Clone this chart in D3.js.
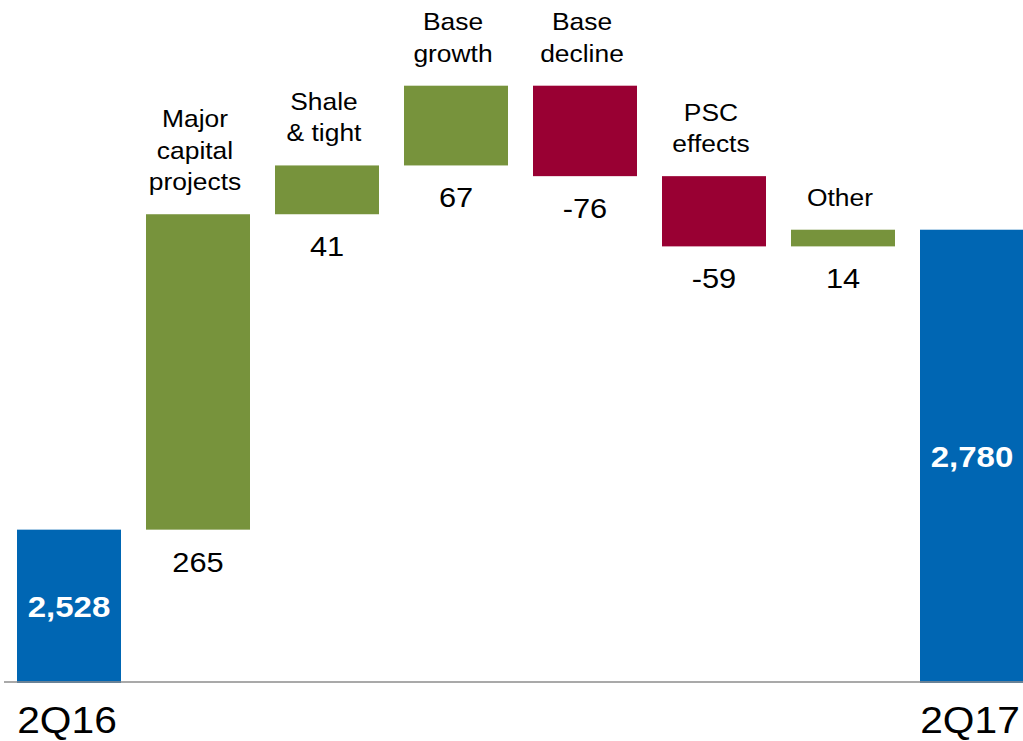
<!DOCTYPE html>
<html>
<head>
<meta charset="utf-8">
<script src="https://cdn.jsdelivr.net/npm/d3@7"></script>
<style>
  html, body { margin: 0; padding: 0; background: #fff; }
  svg { display: block; font-family: "Liberation Sans", Arial, sans-serif; }
</style>
</head>
<body>
<div id="chart"></div>
<script>
// Chart data.
const categories = ["2Q16", "Major capital projects", "Shale & tight", "Base growth", "Base decline", "PSC effects", "Other", "2Q17"];
const labelLines = [[], ["Major", "capital", "projects"], ["Shale", "& tight"], ["Base", "growth"], ["Base", "decline"], ["PSC", "effects"], ["Other"], []];
const values = [2528, 265, 41, 67, -76, -59, 14, 2780];
const isTotal = [true, false, false, false, false, false, false, true];

const width = 1023;
const height = 741;
const baseY = 682;
const stretch = 1.1; // the reference text is a little wide

const colors = { total: "#0066b3", up: "#77933c", down: "#990033" };

/**
 * Running positions of the waterfall.
 */
let running = 0;
const bars = categories.map((c, i) => {
  let start, end;
  if (isTotal[i]) {
    start = 2400;
    end = values[i];
    running = values[i];
  } else {
    start = running;
    end = running + values[i];
    running = end;
  }
  return { key: c, lines: labelLines[i], value: values[i], total: isTotal[i], start, end };
});

/**
 * Scales.
 */
const x = d3.scaleBand()
  .domain(categories)
  .range([4.5, 1036.5])
  .paddingInner(25 / 129)
  .paddingOuter(12.5 / 129);

const y = d3.scaleLinear().domain([2400, 2973]).range([baseY, 0]);

const svg = d3.select("#chart")
  .append("svg")
  .attr("width", width)
  .attr("height", height);

// Bars.
svg.selectAll("rect.bar")
  .data(bars)
  .join("rect")
  .attr("class", "bar")
  .attr("x", (d) => x(d.key))
  .attr("width", x.bandwidth())
  .attr("y", (d) => y(Math.max(d.start, d.end)))
  .attr("height", (d) => Math.abs(y(d.start) - y(d.end)) + (d.total ? 1 : 0))
  .attr("fill", (d) => (d.total ? colors.total : d.value >= 0 ? colors.up : colors.down));

// Baseline.
svg.append("line")
  .attr("x1", 4)
  .attr("x2", width)
  .attr("y1", baseY)
  .attr("y2", baseY)
  .attr("stroke", "#8c8c8c")
  .attr("stroke-width", 1.5);

// Helper: a text placed at (cx, cy) and widened a bit.
function addText(g, cx, cy) {
  return g.append("g")
    .attr("transform", `translate(${cx},${cy})`)
    .append("text")
    .attr("transform", `scale(${stretch},1)`)
    .attr("text-anchor", "middle");
}

const fmt = d3.format(",");

// Values inside total bars.
bars.filter((d) => d.total).forEach((d) => {
  const cy = (y(d.end) + baseY) / 2 + 11;
  addText(svg, x(d.key) + x.bandwidth() / 2, cy)
    .attr("fill", "#fff")
    .attr("font-weight", "bold")
    .attr("font-size", 30)
    .text(fmt(d.value));
});

// Delta values under the bars, category labels above.
bars.filter((d) => !d.total).forEach((d) => {
  const cx = x(d.key) + x.bandwidth() / 2;
  const top = y(Math.max(d.start, d.end));
  const bottom = y(Math.min(d.start, d.end));

  addText(svg, cx, bottom + 42)
    .attr("fill", "#000")
    .attr("font-size", 28)
    .text(d.value);

  const lh = 31.5;
  const n = d.lines.length;
  const t = addText(svg, cx - 3, top - 24 - (n - 1) * lh)
    .attr("fill", "#000")
    .attr("font-size", 24);
  t.selectAll("tspan")
    .data(d.lines)
    .join("tspan")
    .attr("x", 0)
    .attr("dy", (_, i) => (i === 0 ? 0 : lh))
    .text((s) => s);
});

// Period labels below the baseline.
bars.filter((d) => d.total).forEach((d) => {
  addText(svg, x(d.key) + x.bandwidth() / 2 - 2, 733)
    .attr("fill", "#000")
    .attr("font-size", 37)
    .text(d.key);
});
</script>
</body>
</html>
